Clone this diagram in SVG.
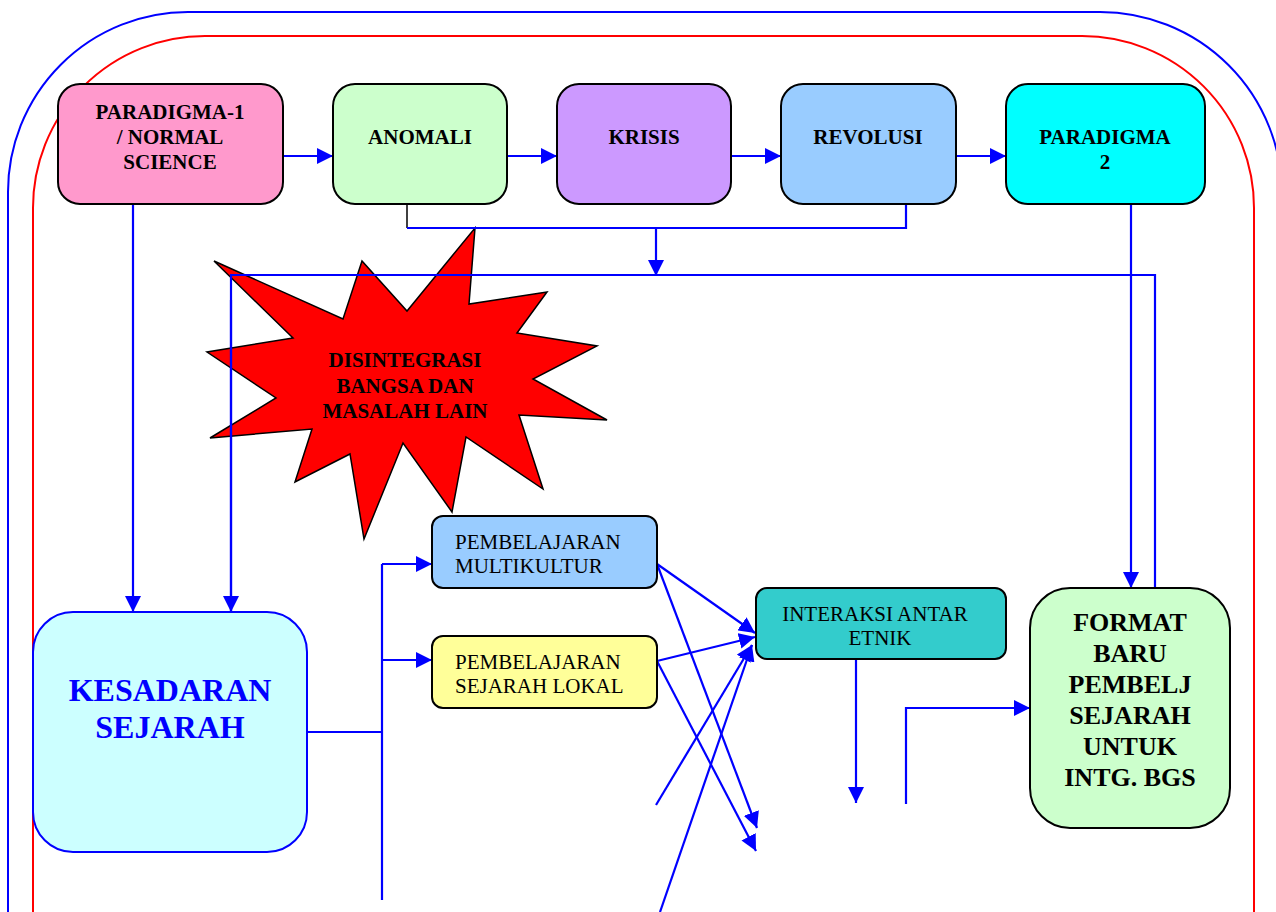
<svg xmlns="http://www.w3.org/2000/svg" width="1276" height="912" viewBox="0 0 1276 912">
<style>
.bx{stroke:#000;stroke-width:2}
.c{fill:none;stroke:#0000ff;stroke-width:2.2}
.t{font-family:"Liberation Serif","Times New Roman",serif;font-size:21px;fill:#000}
.b{font-weight:bold}
.m{text-anchor:middle}
</style>
<defs>
<marker id="ah" markerUnits="userSpaceOnUse" markerWidth="16" markerHeight="16" viewBox="0 0 14 14" refX="14" refY="7" orient="auto">
<path d="M0,0 L14,7 L0,14 z" fill="#0000ff"/>
</marker>
</defs>
<rect width="1276" height="912" fill="#fff"/>
<g id="frames">
<path d="M8,912 V192 A180,180 0 0 1 188,12 H1100 A182,182 0 0 1 1282,194 V912" fill="none" stroke="#0000ff" stroke-width="2"/>
<path d="M33,912 V208 A172,172 0 0 1 205,36 H1082 A172,172 0 0 1 1254,208 V912" fill="none" stroke="#ff0000" stroke-width="2"/>
</g>
<g id="star">
<polygon points="214,261 343,319 362,261 407,311 475,228 469,304 547,292 517,333 597,346 533,379 607,420 519,415 543,489 466,437 452,512 403,443 364,539 350,454 295,482 312,429 210,438 276,398 207,352 293,338" fill="#ff0000" stroke="#000" stroke-width="1.5"/>
<text class="t b m" x="405"><tspan x="405" y="367">DISINTEGRASI</tspan><tspan x="405" y="393">BANGSA DAN</tspan><tspan x="405" y="418">MASALAH LAIN</tspan></text>
</g>
<g id="connectors">
<path class="c" d="M283,156 H333" marker-end="url(#ah)"/>
<path class="c" d="M507,156 H557" marker-end="url(#ah)"/>
<path class="c" d="M731,156 H781" marker-end="url(#ah)"/>
<path class="c" d="M956,156 H1006" marker-end="url(#ah)"/>
<path d="M407,204 V228" fill="none" stroke="#000" stroke-width="1.5"/>
<path class="c" d="M407,228 H906 V204"/>
<path class="c" d="M656,228 V276" marker-end="url(#ah)"/>
<path class="c" d="M231,612 V275 H1155 V588"/>
<path class="c" d="M231,300 V612" marker-end="url(#ah)"/>
<path class="c" d="M133,204 V612" marker-end="url(#ah)"/>
<path class="c" d="M1131,204 V588" marker-end="url(#ah)"/>
<path class="c" d="M307,732 H382"/>
<path class="c" d="M382,900 V564"/>
<path class="c" d="M382,564 H432" marker-end="url(#ah)"/>
<path class="c" d="M382,660 H432" marker-end="url(#ah)"/>
<path class="c" d="M657,564 L755,633" marker-end="url(#ah)"/>
<path class="c" d="M657,564 L757,828" marker-end="url(#ah)"/>
<path class="c" d="M657,661 L755,637" marker-end="url(#ah)"/>
<path class="c" d="M657,661 L756,851" marker-end="url(#ah)"/>
<path class="c" d="M656,805 L752,645" marker-end="url(#ah)"/>
<path class="c" d="M660,912 L752,645" marker-end="url(#ah)"/>
<path class="c" d="M856,659 V803" marker-end="url(#ah)"/>
<path class="c" d="M906,804 V708 H1030" marker-end="url(#ah)"/>
</g>
<g id="paradigma1">
<rect class="bx" x="58" y="84" width="225" height="120" rx="22" fill="#ff99cc"/>
<text class="t b m"><tspan x="170" y="119">PARADIGMA-1</tspan><tspan x="170" y="144">/ NORMAL</tspan><tspan x="170" y="169">SCIENCE</tspan></text>
</g>
<g id="anomali">
<rect class="bx" x="333" y="84" width="174" height="120" rx="22" fill="#ccffcc"/>
<text class="t b m" x="420" y="144">ANOMALI</text>
</g>
<g id="krisis">
<rect class="bx" x="557" y="84" width="174" height="120" rx="22" fill="#cc99ff"/>
<text class="t b m" x="644" y="144">KRISIS</text>
</g>
<g id="revolusi">
<rect class="bx" x="781" y="84" width="175" height="120" rx="22" fill="#99ccff"/>
<text class="t b m" x="868" y="144">REVOLUSI</text>
</g>
<g id="paradigma2">
<rect class="bx" x="1006" y="84" width="199" height="120" rx="22" fill="#00ffff"/>
<text class="t b m"><tspan x="1105" y="144">PARADIGMA</tspan><tspan x="1105" y="169">2</tspan></text>
</g>
<g id="kesadaran">
<rect x="33" y="612" width="274" height="240" rx="40" fill="#ccffff" stroke="#0000ff" stroke-width="2"/>
<text class="t b m" style="font-size:32px;fill:#0000ff"><tspan x="170" y="701">KESADARAN</tspan><tspan x="170" y="738">SEJARAH</tspan></text>
</g>
<g id="multikultur">
<rect class="bx" x="432" y="516" width="225" height="72" rx="11" fill="#99ccff"/>
<text class="t"><tspan x="455" y="549">PEMBELAJARAN</tspan><tspan x="455" y="573">MULTIKULTUR</tspan></text>
</g>
<g id="lokal">
<rect class="bx" x="432" y="636" width="225" height="72" rx="11" fill="#ffff99"/>
<text class="t"><tspan x="455" y="669">PEMBELAJARAN</tspan><tspan x="455" y="693">SEJARAH LOKAL</tspan></text>
</g>
<g id="interaksi">
<rect class="bx" x="756" y="588" width="250" height="71" rx="11" fill="#33cccc"/>
<text class="t m"><tspan x="875" y="621">INTERAKSI ANTAR</tspan><tspan x="880" y="645">ETNIK</tspan></text>
</g>
<g id="format">
<rect class="bx" x="1030" y="588" width="200" height="240" rx="40" fill="#ccffcc"/>
<text class="t b m" style="font-size:26px"><tspan x="1130" y="631">FORMAT</tspan><tspan x="1130" y="662">BARU</tspan><tspan x="1130" y="693">PEMBELJ</tspan><tspan x="1130" y="724">SEJARAH</tspan><tspan x="1130" y="755">UNTUK</tspan><tspan x="1130" y="786">INTG. BGS</tspan></text>
</g>
</svg>
